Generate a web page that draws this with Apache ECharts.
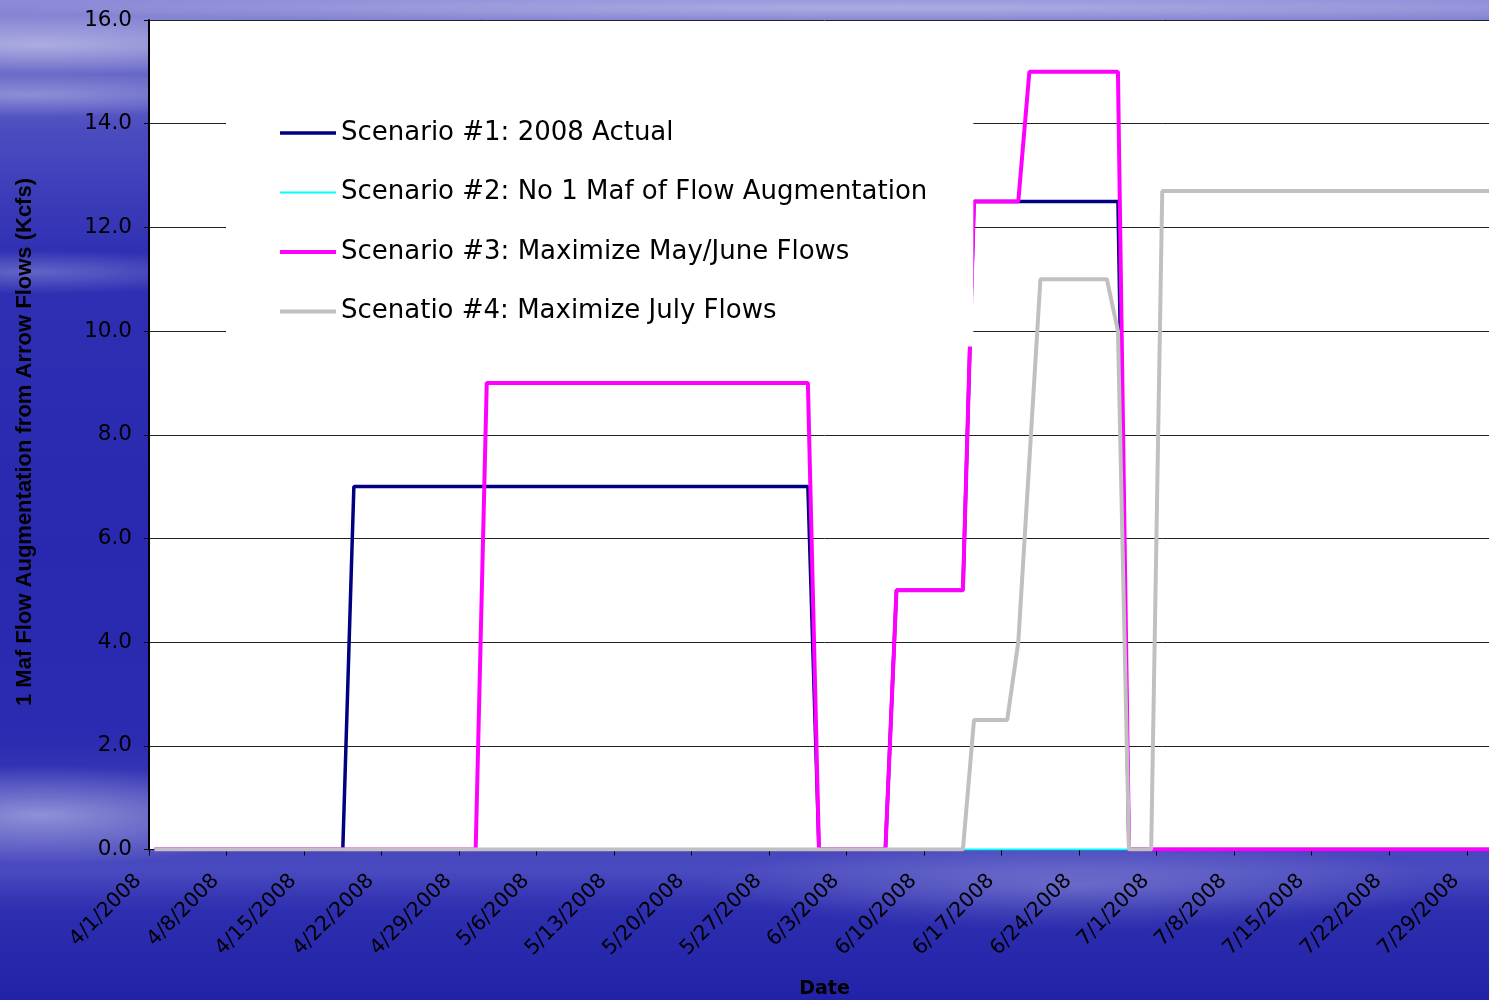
<!DOCTYPE html>
<html>
<head>
<meta charset="utf-8">
<script src="https://cdn.jsdelivr.net/npm/echarts@6/dist/echarts.min.js"></script>
<style>
html,body{margin:0;padding:0;width:1489px;height:1000px;overflow:hidden;}
body{
  background:
    radial-gradient(ellipse 300px 30px at 40px 45px, rgba(255,255,255,0.40), rgba(255,255,255,0) 100%),
    radial-gradient(ellipse 260px 22px at 30px 95px, rgba(255,255,255,0.30), rgba(255,255,255,0) 100%),
    radial-gradient(ellipse 220px 22px at 30px 272px, rgba(255,255,255,0.25), rgba(255,255,255,0) 100%),
    radial-gradient(ellipse 260px 50px at 40px 815px, rgba(255,255,255,0.42), rgba(255,255,255,0) 100%),
    radial-gradient(ellipse 380px 45px at 1080px 885px, rgba(255,255,255,0.22), rgba(255,255,255,0) 100%),
    radial-gradient(ellipse 900px 14px at 900px 8px, rgba(255,255,255,0.30), rgba(255,255,255,0) 100%),
    linear-gradient(180deg, #8c8cd8 0%, #7474cc 5%, #4c4cc0 13%, #3030b4 25%, #2828b0 55%, #2c2cb2 74%, #4646bc 84%, #4a4ac0 87%, #2e2eb0 91%, #2222a8 100%);
}
#chart{width:1500px;height:1000px;}
</style>
</head>
<body>
<div id="chart"></div>
<script>
// ---- data ----
const startDate = [2008, 4, 1];   // first category (M/D/YYYY labels)
const dayCount = 122;             // 4/1/2008 .. 7/31/2008
const seriesNames = [
  'Scenario #1: 2008 Actual',
  'Scenario #2: No 1 Maf of Flow Augmentation',
  'Scenario #3: Maximize May/June Flows',
  'Scenatio #4: Maximize July Flows'
];
const scenario1 = [
  0,0,0,0,0,0,0,0,0,0, 0,0,0,0,0,0,0,0,7,7,
  7,7,7,7,7,7,7,7,7,7, 7,7,7,7,7,7,7,7,7,7,
  7,7,7,7,7,7,7,7,7,7, 7,7,7,7,7,7,7,7,7,7,
  0,0,0,0,0,0,0,5,5,5, 5,5,5,5,12.5,12.5,12.5,12.5,12.5,12.5,
  12.5,12.5,12.5,12.5,12.5,12.5,12.5,12.5,0,0, 0,0,0,0,0,0,0,0,0,0,
  0,0,0,0,0,0,0,0,0,0, 0,0,0,0,0,0,0,0,0,0,
  0,0
];
const scenario2 = [
  0,0,0,0,0,0,0,0,0,0, 0,0,0,0,0,0,0,0,0,0,
  0,0,0,0,0,0,0,0,0,0, 0,0,0,0,0,0,0,0,0,0,
  0,0,0,0,0,0,0,0,0,0, 0,0,0,0,0,0,0,0,0,0,
  0,0,0,0,0,0,0,0,0,0, 0,0,0,0,0,0,0,0,0,0,
  0,0,0,0,0,0,0,0,0,0, 0,0,0,0,0,0,0,0,0,0,
  0,0,0,0,0,0,0,0,0,0, 0,0,0,0,0,0,0,0,0,0,
  0,0
];
const scenario3 = [
  0,0,0,0,0,0,0,0,0,0, 0,0,0,0,0,0,0,0,0,0,
  0,0,0,0,0,0,0,0,0,0, 9,9,9,9,9,9,9,9,9,9,
  9,9,9,9,9,9,9,9,9,9, 9,9,9,9,9,9,9,9,9,9,
  0,0,0,0,0,0,0,5,5,5, 5,5,5,5,12.5,12.5,12.5,12.5,12.5,15,
  15,15,15,15,15,15,15,15,0,0, 0,0,0,0,0,0,0,0,0,0,
  0,0,0,0,0,0,0,0,0,0, 0,0,0,0,0,0,0,0,0,0,
  0,0
];
const scenario4 = [
  0,0,0,0,0,0,0,0,0,0, 0,0,0,0,0,0,0,0,0,0,
  0,0,0,0,0,0,0,0,0,0, 0,0,0,0,0,0,0,0,0,0,
  0,0,0,0,0,0,0,0,0,0, 0,0,0,0,0,0,0,0,0,0,
  0,0,0,0,0,0,0,0,0,0, 0,0,0,0,2.5,2.5,2.5,2.5,4,7.5,
  11,11,11,11,11,11,11,10,0,0, 0,12.7,12.7,12.7,12.7,12.7,12.7,12.7,12.7,12.7,
  12.7,12.7,12.7,12.7,12.7,12.7,12.7,12.7,12.7,12.7, 12.7,12.7,12.7,12.7,12.7,12.7,12.7,12.7,12.7,12.7,
  12.7,12.7
];
const yTicks = [0, 2, 4, 6, 8, 10, 12, 14, 16];
const yTitle = '1 Maf Flow Augmentation from Arrow Flows (Kcfs)';
const xTitle = 'Date';

// ---- categories ----
const dates = [];
{
  const d = new Date(startDate[0], startDate[1] - 1, startDate[2]);
  for (let i = 0; i < dayCount; i++) {
    dates.push((d.getMonth() + 1) + '/' + d.getDate() + '/' + d.getFullYear());
    d.setDate(d.getDate() + 1);
  }
}

const colors = ['#000080', '#00FFFF', '#FF00FF', '#C0C0C0'];
const widths = [3.5, 2, 4, 4];
const values = [scenario1, scenario2, scenario3, scenario4];

const chart = echarts.init(document.getElementById('chart'), null, {renderer: 'canvas'});
chart.setOption({
  backgroundColor: 'transparent',
  animation: false,
  grid: {left: 149, top: 20, right: 0, bottom: 150.5, outerBoundsMode: 'none', containLabel: false,
    show: true, backgroundColor: '#ffffff', borderWidth: 0},
  legend: {
    data: seriesNames.map((n, i) => ({
      name: n,
      icon: 'path://M0,0 L56,0 L56,' + widths[i] + ' L0,' + widths[i] + ' Z'
    })),
    orient: 'vertical',
    left: 226,
    top: 93,
    z: 10,
    backgroundColor: '#ffffff',
    padding: [25, 46, 20, 54],
    itemWidth: 56,
    itemHeight: 14,
    itemGap: 29.5,
    selectedMode: false,
    textStyle: {fontFamily: 'DejaVu Sans', fontSize: 26, color: '#000', lineHeight: 30}
  },
  graphic: [{
    type: 'text',
    x: 25, y: 442,
    rotation: Math.PI / 2,
    style: {text: yTitle, fontFamily: 'Liberation Sans', fontWeight: 'bold', fontSize: 22,
      fill: '#000', align: 'center', verticalAlign: 'middle'}
  }],
  xAxis: {
    type: 'category',
    data: dates,
    boundaryGap: true,
    name: xTitle,
    nameLocation: 'middle',
    nameGap: 130,
    nameTextStyle: {fontFamily: 'DejaVu Sans', fontWeight: 'bold', fontSize: 19, color: '#000'},
    axisLine: {show: true, lineStyle: {color: '#000', width: 1}},
    axisTick: {show: true, interval: 6, length: 6, lineStyle: {color: '#000'}},
    axisLabel: {interval: 6, rotate: 45, margin: 12, padding: [0, 23, 0, 0],
      fontFamily: 'DejaVu Sans', fontSize: 20.5, color: '#000'},
    splitLine: {show: false}
  },
  yAxis: {
    type: 'value',
    min: yTicks[0],
    max: yTicks[yTicks.length - 1],
    interval: 2,
    axisLine: {show: true, lineStyle: {color: '#000', width: 2}},
    axisTick: {show: true, length: 5, lineStyle: {color: '#000'}},
    axisLabel: {margin: 17, fontFamily: 'DejaVu Sans', fontSize: 21.5, color: '#000',
      formatter: v => v.toFixed(1)},
    splitLine: {show: true, lineStyle: {color: '#222', width: 1}}
  },
  series: seriesNames.map((n, i) => ({
    name: n,
    type: 'line',
    data: values[i],
    symbol: 'none',
    silent: true,
    z: 2 + i * 0.1,
    lineStyle: {color: colors[i], width: widths[i]},
    itemStyle: {color: colors[i]},
    emphasis: {disabled: true}
  }))
});
</script>
</body>
</html>
